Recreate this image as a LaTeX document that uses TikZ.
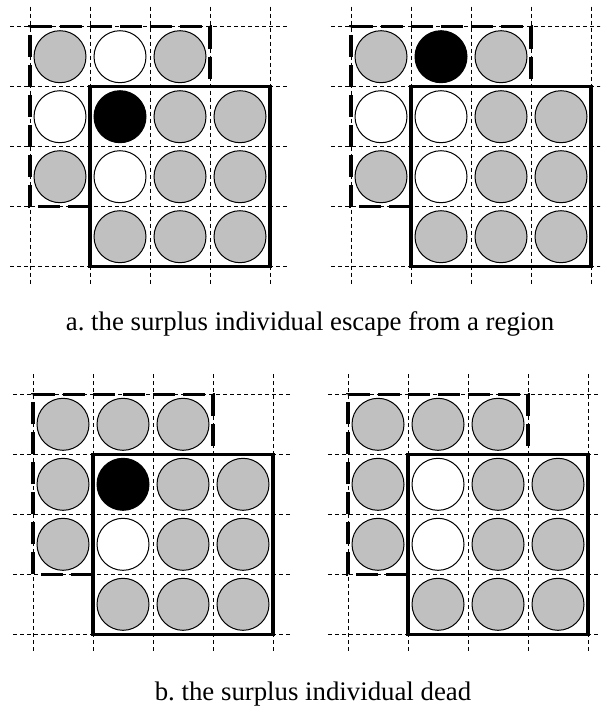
\documentclass[tikz,border=0pt]{standalone}
\usepackage{fontspec}
\setmainfont{Liberation Serif}
\usetikzlibrary{positioning}
\definecolor{livegray}{RGB}{192,192,192}
\tikzset{
  gridline/.style={draw=black, line width=0.5pt, dash pattern=on 2pt off 1.5pt},
  region/.style  ={draw=black, line width=1.6pt, dash pattern=on 11pt off 4pt},
  core/.style    ={draw=black, line width=1.6pt},
  cell/.style    ={circle, draw=black, line width=0.5pt, minimum size=26pt, inner sep=0pt},
  gcell/.style   ={cell, fill=livegray},
  wcell/.style   ={cell, fill=white},
  bcell/.style   ={cell, fill=black},
  caption/.style ={font=\fontsize{13.4}{15}\selectfont\frenchspacing, anchor=base}
}
% one panel: name, top-left corner of the grid, cell list
\newcommand{\regionpanel}[4]{%
  \begin{scope}[shift={(#2,#3)}]
    \foreach \i in {0,...,4} {
      \draw[gridline] (\i*60,-20) -- (\i*60,260);
      \draw[gridline] (-20,\i*60) -- (260,\i*60);
    }
    \foreach \c/\r/\s in {#4}
      \node[\s] (#1-\c-\r) at (\c*60+30,\r*60+30) {};
    \draw[region] (60,180) -- (0,180) -- (0,0) -- (180,0) -- (180,60);
    \draw[core] (60,60) rectangle (240,240);
  \end{scope}}

\begin{document}
\begin{tikzpicture}[x=0.5pt, y=-0.5pt]
  \useasboundingbox (0,0) rectangle (600,707);
  \clip (0,0) rectangle (600,707);

  \regionpanel{pa}{30}{26.7}{0/0/gcell, 1/0/wcell, 2/0/gcell,
    0/1/wcell, 1/1/bcell, 2/1/gcell, 3/1/gcell,
    0/2/gcell, 1/2/wcell, 2/2/gcell, 3/2/gcell,
    1/3/gcell, 2/3/gcell, 3/3/gcell}
  \regionpanel{pb}{351}{26.7}{0/0/gcell, 1/0/bcell, 2/0/gcell,
    0/1/wcell, 1/1/wcell, 2/1/gcell, 3/1/gcell,
    0/2/gcell, 1/2/wcell, 2/2/gcell, 3/2/gcell,
    1/3/gcell, 2/3/gcell, 3/3/gcell}
  \regionpanel{pc}{33}{394.3}{0/0/gcell, 1/0/gcell, 2/0/gcell,
    0/1/gcell, 1/1/bcell, 2/1/gcell, 3/1/gcell,
    0/2/gcell, 1/2/wcell, 2/2/gcell, 3/2/gcell,
    1/3/gcell, 2/3/gcell, 3/3/gcell}
  \regionpanel{pd}{348}{394.3}{0/0/gcell, 1/0/gcell, 2/0/gcell,
    0/1/gcell, 1/1/wcell, 2/1/gcell, 3/1/gcell,
    0/2/gcell, 1/2/wcell, 2/2/gcell, 3/2/gcell,
    1/3/gcell, 2/3/gcell, 3/3/gcell}

  \node[caption] (capa) at (310,330) {a. the surplus individual escape from a region};
  \node[caption] (capb) at (313,700) {b. the surplus individual dead};
\end{tikzpicture}
\end{document}
